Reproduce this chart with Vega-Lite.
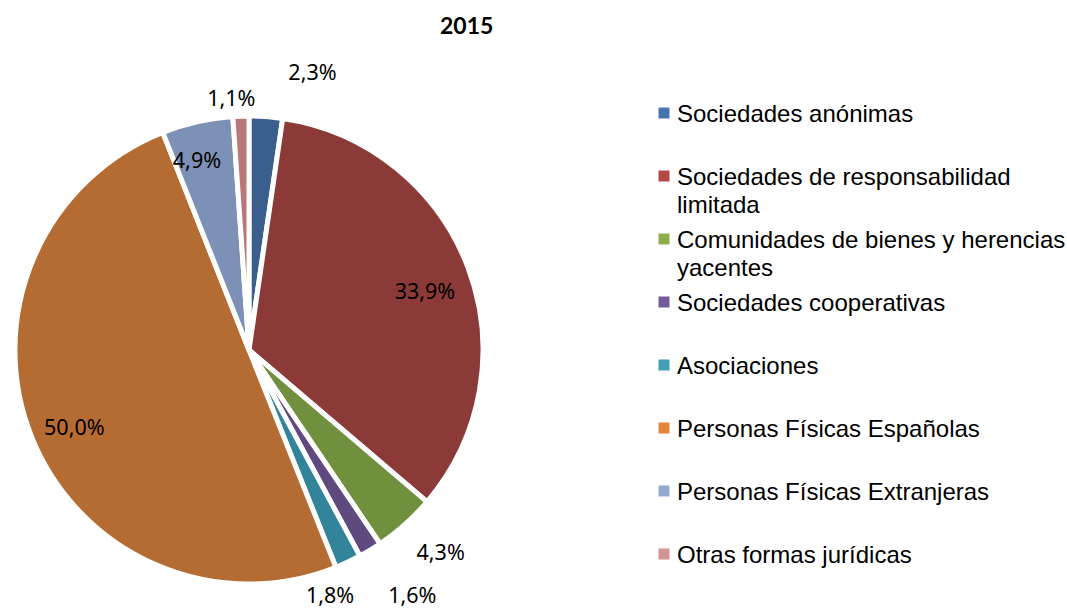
{
  "$schema": "https://vega.github.io/schema/vega-lite/v6.json",
  "bounds": "flush",
  "padding": {"left": 5, "top": 16, "right": 5, "bottom": 0},
  "background": "white",
  "title": {"text": "2015", "anchor": "start", "dx": 435, "offset": 11, "fontSize": 23, "font": "Lato", "fontWeight": "bold", "color": "black"},
  "datasets": {
    "slices": [
      {"ord": 1, "name": "Sociedades anónimas", "pct": 2.3, "label": "2,3%", "legendLabel": "Sociedades anónimas"},
      {"ord": 2, "name": "Sociedades de responsabilidad limitada", "pct": 33.9, "label": "33,9%", "legendLabel": "Sociedades de responsabilidad\nlimitada"},
      {"ord": 3, "name": "Comunidades de bienes y herencias yacentes", "pct": 4.3, "label": "4,3%", "legendLabel": "Comunidades de bienes y herencias\nyacentes"},
      {"ord": 4, "name": "Sociedades cooperativas", "pct": 1.6, "label": "1,6%", "legendLabel": "Sociedades cooperativas"},
      {"ord": 5, "name": "Asociaciones", "pct": 1.8, "label": "1,8%", "legendLabel": "Asociaciones"},
      {"ord": 6, "name": "Personas Físicas Españolas", "pct": 50.0, "label": "50,0%", "legendLabel": "Personas Físicas Españolas"},
      {"ord": 7, "name": "Personas Físicas Extranjeras", "pct": 4.9, "label": "4,9%", "legendLabel": "Personas Físicas Extranjeras"},
      {"ord": 8, "name": "Otras formas jurídicas", "pct": 1.1, "label": "1,1%", "legendLabel": "Otras formas jurídicas"}
    ]
  },
  "spacing": 159,
  "resolve": {"scale": {"color": "independent"}},
  "hconcat": [
    {
      "width": 488,
      "height": 600,
      "data": {"name": "slices"},
      "encoding": {
        "theta": {"field": "pct", "type": "quantitative", "stack": true},
        "order": {"field": "ord", "type": "quantitative"}
      },
      "layer": [
        {
          "mark": {"type": "arc", "outerRadius": 234, "stroke": "white", "strokeWidth": 5},
          "encoding": {
            "color": {
              "field": "name", "type": "nominal", "legend": null,
              "scale": {
                "domain": ["Sociedades anónimas", "Sociedades de responsabilidad limitada", "Comunidades de bienes y herencias yacentes", "Sociedades cooperativas", "Asociaciones", "Personas Físicas Españolas", "Personas Físicas Extranjeras", "Otras formas jurídicas"],
                "range": ["#3A5F8E", "#8B3A38", "#71903D", "#5E4A7E", "#31849A", "#B56C33", "#7D90B5", "#B87877"]
              }
            }
          }
        },
        {
          "mark": {"type": "text", "clip": true, "radius": 188, "dy": 9, "font": "Noto Sans", "fontSize": 21.5, "color": "black"},
          "encoding": {"text": {"condition": {"test": "datum.ord == 2 || datum.ord == 6", "field": "label"}, "value": ""}}
        },
        {
          "mark": {"type": "text", "clip": true, "radius": 190, "dx": -10, "dy": -3, "font": "Noto Sans", "fontSize": 21.5, "color": "black"},
          "encoding": {"text": {"condition": {"test": "datum.ord == 7", "field": "label"}, "value": ""}}
        },
        {
          "mark": {"type": "text", "clip": true, "radius": 251, "dx": -9, "dy": 1, "font": "Noto Sans", "fontSize": 21.5, "color": "black"},
          "encoding": {"text": {"condition": {"test": "datum.ord == 8", "field": "label"}, "value": ""}}
        },
        {
          "mark": {"type": "text", "clip": true, "radius": 283, "dx": 43, "dy": 6, "font": "Noto Sans", "fontSize": 21.5, "color": "black"},
          "encoding": {"text": {"condition": {"test": "datum.ord == 1", "field": "label"}, "value": ""}}
        },
        {
          "mark": {"type": "text", "clip": true, "radius": 280, "dx": 5, "dy": -5, "font": "Noto Sans", "fontSize": 21.5, "color": "black"},
          "encoding": {"text": {"condition": {"test": "datum.ord == 3", "field": "label"}, "value": ""}}
        },
        {
          "mark": {"type": "text", "clip": true, "radius": 298, "dx": 9, "dy": -8, "font": "Noto Sans", "fontSize": 21.5, "color": "black"},
          "encoding": {"text": {"condition": {"test": "datum.ord == 4", "field": "label"}, "value": ""}}
        },
        {
          "mark": {"type": "text", "clip": true, "radius": 267, "dx": -32, "dy": 5, "font": "Noto Sans", "fontSize": 21.5, "color": "black"},
          "encoding": {"text": {"condition": {"test": "datum.ord == 5", "field": "label"}, "value": ""}}
        }
      ]
    },
    {
      "width": 24,
      "height": 567,
      "data": {"name": "slices"},
      "encoding": {
        "y": {
          "field": "name", "type": "nominal", "axis": null,
          "sort": ["Sociedades anónimas", "Sociedades de responsabilidad limitada", "Comunidades de bienes y herencias yacentes", "Sociedades cooperativas", "Asociaciones", "Personas Físicas Españolas", "Personas Físicas Extranjeras", "Otras formas jurídicas"],
          "scale": {"type": "point", "padding": 1}
        }
      },
      "layer": [
        {
          "mark": {"type": "square", "size": 121, "filled": true, "opacity": 1},
          "encoding": {
            "color": {
              "field": "name", "type": "nominal", "legend": null,
              "scale": {
                "domain": ["Sociedades anónimas", "Sociedades de responsabilidad limitada", "Comunidades de bienes y herencias yacentes", "Sociedades cooperativas", "Asociaciones", "Personas Físicas Españolas", "Personas Físicas Extranjeras", "Otras formas jurídicas"],
                "range": ["#4675B0", "#B04845", "#8BAE48", "#735A9A", "#409EB5", "#E3843A", "#94A9D2", "#D39392"]
              }
            }
          }
        },
        {
          "mark": {"type": "text", "align": "left", "baseline": "alphabetic", "dx": 13, "dy": 9, "font": "Liberation Sans", "fontSize": 24, "lineBreak": "\n", "lineHeight": 28, "color": "black"},
          "encoding": {"text": {"field": "legendLabel"}}
        }
      ]
    }
  ],
  "config": {"view": {"stroke": null}}
}
